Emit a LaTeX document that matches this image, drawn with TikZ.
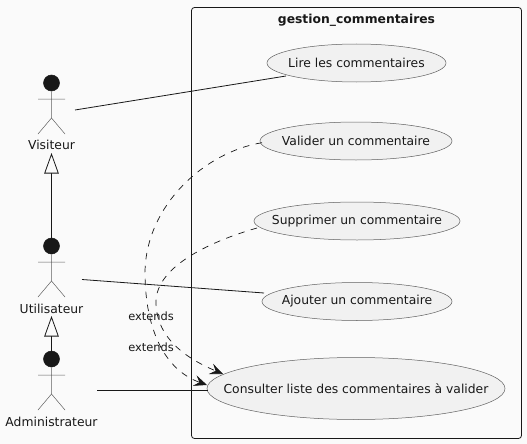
\documentclass[tikz,border=0pt]{standalone}
\usepackage{fontspec}
\setmainfont{DejaVu Sans}
\usetikzlibrary{arrows.meta,shapes.geometric}
\definecolor{ink}{HTML}{181818}
\definecolor{soft}{HTML}{606060}
\definecolor{bgc}{HTML}{FAFAFA}
\definecolor{ucfill}{HTML}{F1F1F1}
\newcommand{\uctext}[1]{\raisebox{-1pt}{\makebox[0pt][c]{#1}}}
\tikzset{
  uc/.style={draw=soft,line width=0.5pt,fill=ucfill,ellipse,inner sep=0pt,minimum height=38pt,font=\fontsize{12.35}{15}\selectfont,text=ink},
  actorlabel/.style={font=\fontsize{12.35}{15}\selectfont,text=ink,inner sep=0pt},
  limb/.style={draw=soft,line width=0.5pt},
  head/.style={circle,fill=ink,draw=ink,line width=0.5pt,minimum size=16pt,inner sep=0pt},
  assoc/.style={draw=ink,line width=0.8pt},
  gen/.style={draw=ink,line width=0.8pt,-{Triangle[open,length=20.5pt,width=14.5pt,fill=bgc]}},
  ext/.style={draw=ink,line width=0.7pt,dash pattern=on 6.5pt off 6.5pt,-{Stealth[length=13pt,width=11pt,inset=5pt,line width=0.7pt]}},
  extlabel/.style={font=\fontsize{11.4}{13}\selectfont,text=ink,inner sep=0pt},
}
\begin{document}
\begin{tikzpicture}[x=1pt,y=-1pt]
\useasboundingbox (0,0) rectangle (527,444);
\fill[bgc] (0,0) rectangle (527,444);
\draw[ink,line width=0.8pt,rounded corners=3pt] (191.5,7.5) rectangle (521.5,438.5);
\node[inner sep=0pt,text=ink,font=\fontsize{12.35}{15}\selectfont\bfseries] (title) at (356.5,20) {gestion\_commentaires};

\node[uc,minimum width=179pt] (lire) at (356.5,63) {\uctext{Lire les commentaires}};
\node[uc,minimum width=192pt] (valider) at (356,141) {\uctext{Valider un commentaire}};
\node[uc,minimum width=206pt] (supprimer) at (357,221) {\uctext{Supprimer un commentaire}};
\node[uc,minimum width=190pt] (ajouter) at (357,301.5) {\uctext{Ajouter un commentaire}};
\node[uc,minimum width=298pt,minimum height=62pt] (consulter) at (356,388.5) {\uctext{Consulter liste des commentaires à valider}};

% actors
\node[head] (h1) at (51.5,83) {};
\draw[limb] (h1) -- (51.5,118) -- (38,134) (51.5,118) -- (65,134) (38,99) -- (65,99);
\node[actorlabel] (visiteur) at (51.5,145) {Visiteur};
\node[head] (h2) at (51.5,246) {};
\draw[limb] (h2) -- (51.5,281) -- (38,297) (51.5,281) -- (65,297) (38,262) -- (65,262);
\node[actorlabel] (utilisateur) at (51.5,308.7) {Utilisateur};
\node[head] (h3) at (51.5,359) {};
\draw[limb] (h3) -- (51.5,394) -- (38,410) (51.5,394) -- (65,410) (38,375) -- (65,375);
\node[actorlabel] (admin) at (51.5,421.5) {Administrateur};

% generalisations
\coordinate (g1) at (51.5,153);
\coordinate (g2) at (51.5,316);
\draw[gen] (h2) -- (g1);
\draw[gen] (h3) -- (g2);

% associations
\coordinate (a1) at (75,110);
\coordinate (a1e) at (286,76);
\coordinate (a2) at (82,279.5);
\coordinate (a2e) at (264,293);
\coordinate (a3) at (97,390.5);
\coordinate (a3e) at (207.5,390.5);
\draw[assoc] (a1) -- (a1e);
\draw[assoc] (a2) -- (a2e);
\draw[assoc] (a3) -- (a3e);

% extends
\coordinate (e1s) at (262,142.7);
\coordinate (e1m) at (145,272);
\coordinate (e1e) at (207,385);
\coordinate (e2s) at (257,228);
\coordinate (e2m) at (156,302);
\coordinate (e2e) at (223,374);
\draw[ext] (e1s) .. controls (205,152) and (146,205) .. (e1m) .. controls (145,330) and (165,370) .. (e1e);
\draw[ext] (e2s) .. controls (215,240) and (156,265) .. (e2m) .. controls (156,340) and (190,360) .. (e2e);
\node[extlabel] (x1) at (151,316) {extends};
\node[extlabel] (x2) at (151,347) {extends};
\end{tikzpicture}
\end{document}
